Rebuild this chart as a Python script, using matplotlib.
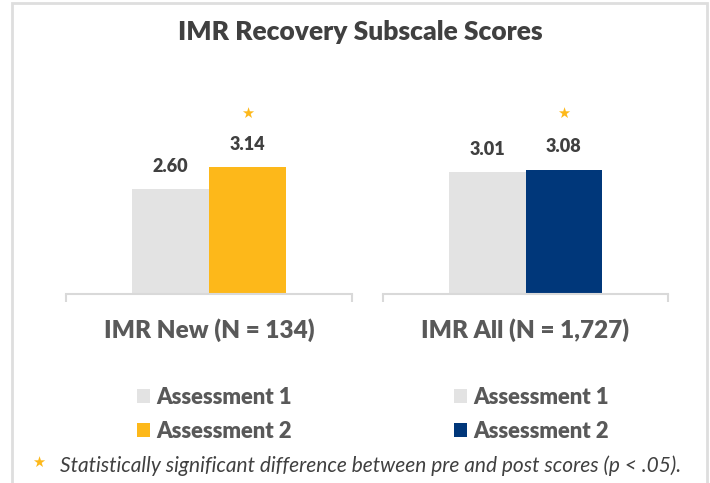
import matplotlib.pyplot as plt
from matplotlib.patches import Rectangle, Patch

plt.rcParams['font.family'] = ['Lato', 'DejaVu Sans']

# data
groups = ['IMR New (N = 134)', 'IMR All (N = 1,727)']
series = ['Assessment 1', 'Assessment 2']
values = [[2.60, 3.14], [3.01, 3.08]]
significant = [True, True]

gray = '#e3e3e3'
second_colors = ['#fdb81a', '#00377a']
star_color = '#fdb81a'
text_dark = '#404040'
text_mid = '#595959'
heavy = 'heavy'

W, H = 710, 483
fig = plt.figure(figsize=(W / 100, H / 100), dpi=100)

def fx(px):
    return px / W

def fy(py):
    return 1 - py / H

# frame around the whole picture
fig.patches.append(Rectangle((fx(12), fy(490)), fx(707) - fx(12), fy(3) - fy(490),
                             transform=fig.transFigure, fill=False,
                             edgecolor='#dedede', lw=2, zorder=0))

fig.text(fx(360), fy(32), 'IMR Recovery Subscale Scores', ha='center', va='center',
         fontsize=19, fontweight=heavy, color=text_dark)

base_y = 294
top_y = 60
px_per_unit = 40.4
ymax = (base_y - top_y) / px_per_unit
axes_x = [(66, 352), (383, 668)]
bw = 0.268

for i, g in enumerate(groups):
    x0, x1 = axes_x[i]
    ax = fig.add_axes([fx(x0), fy(base_y), fx(x1) - fx(x0), fy(top_y) - fy(base_y)])
    ax.set_xlim(-0.5, 0.5)
    ax.set_ylim(0, ymax)
    cols = [gray, second_colors[i]]
    xs = [-bw / 2, bw / 2]
    bars = ax.bar(xs, values[i], width=bw, color=cols, zorder=2)
    for b, v in zip(bars, values[i]):
        ax.annotate(f'{v:.2f}', (b.get_x() + b.get_width() / 2, v),
                    xytext=(0, 16.5), textcoords='offset points',
                    ha='center', va='center', fontsize=13, fontweight=heavy,
                    color=text_dark)
    if significant[i]:
        ax.text(xs[1], 4.48, '\u2605', ha='center', va='center',
                fontsize=10.5, color=star_color, family='DejaVu Sans')
    for s in ['top', 'left', 'right']:
        ax.spines[s].set_visible(False)
    ax.spines['bottom'].set_color('#d9d9d9')
    ax.spines['bottom'].set_linewidth(1.5)
    ax.set_yticks([])
    ax.set_xticks([-0.5, 0.5])
    ax.set_xticklabels([])
    ax.tick_params(axis='x', length=6, width=1.5, color='#d9d9d9', direction='out')
    ax.patch.set_alpha(0)
    # group label under the axis centre
    fig.text(fx((x0 + x1) / 2), fy(330), g, ha='center', va='center',
             fontsize=17.5, fontweight=heavy, color=text_mid)

    handles = [Patch(facecolor=c, edgecolor='none') for c in cols]
    leg_x = [127, 444][i]
    fig.legend(handles, series, loc='upper left',
               bbox_to_anchor=(fx(leg_x - 8), fy(369)), frameon=False,
               prop={'weight': heavy, 'size': 15.8}, labelcolor=text_mid,
               handlelength=0.6, handleheight=0.6, handletextpad=0.3,
               labelspacing=0.6, borderpad=0.3)

fig.text(fx(39), fy(462), '\u2605', ha='center', va='center', fontsize=10.5,
         color=star_color, family='DejaVu Sans')
fig.text(fx(60), fy(466), 'Statistically significant difference between pre and post scores (p < .05).',
         ha='left', va='center', fontsize=15, style='italic', color=text_dark)

fig.savefig('out.png', dpi=100)
